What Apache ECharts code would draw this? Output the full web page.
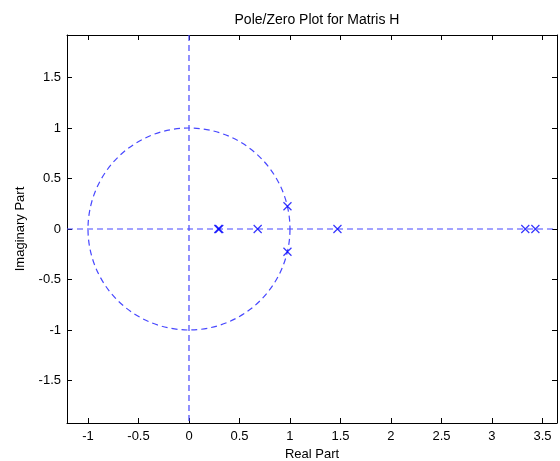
<!DOCTYPE html>
<html>
<head>
<meta charset="utf-8">
<title>Pole/Zero Plot for Matris H</title>
<script src="https://cdn.jsdelivr.net/npm/echarts@6/dist/echarts.min.js"></script>
<style>
  html, body { margin: 0; padding: 0; background: #fff; }
  #pzChart { width: 560px; height: 461px; }
</style>
</head>
<body>
<div id="pzChart"></div>
<script>
// poles (x marks)
const poleRe = [0.29, 0.30, 0.68, 0.975, 0.975, 1.47, 3.33, 3.43]
const poleIm = [0, 0, 0, 0.225, -0.225, 0, 0, 0]
// unit circle: centre re, centre im, radius
const unitCircle = [[0, 0, 1]]
const xTicks = [-1, -0.5, 0, 0.5, 1, 1.5, 2, 2.5, 3, 3.5]
const yTicks = [-1.5, -1, -0.5, 0, 0.5, 1, 1.5]
const xRange = [-1.208, 3.644]
const yRange = [-1.921, 1.921]

const font = 'Arial, "Liberation Sans", Helvetica, sans-serif'
const lineBlue = '#4848ff'

let chart = echarts.init(document.getElementById('pzChart'))

function frameAxis(pos, range, ticks, showLabel) {
  return {
    type: 'value',
    position: pos,
    min: range[0],
    max: range[1],
    axisLine: { show: true, onZero: false, lineStyle: { color: '#000', width: 1 } },
    axisTick: { show: true, inside: true, length: 5, customValues: ticks, lineStyle: { color: '#000' } },
    axisLabel: {
      show: showLabel,
      customValues: ticks,
      color: '#000',
      fontSize: 13,
      fontFamily: font,
      margin: 7
    },
    splitLine: { show: false }
  }
}

let xBottom = frameAxis('bottom', xRange, xTicks, true)
xBottom.name = 'Real Part'
xBottom.nameLocation = 'middle'
xBottom.nameGap = 25
xBottom.nameTextStyle = { color: '#000', fontSize: 13, fontFamily: font }

let yLeft = frameAxis('left', yRange, yTicks, true)
yLeft.name = 'Imaginary Part'
yLeft.nameLocation = 'middle'
yLeft.nameGap = 40
yLeft.nameTextStyle = { color: '#000', fontSize: 13, fontFamily: font }
yLeft.axisLabel.margin = 6

let dash = { fill: 'none', stroke: lineBlue, lineWidth: 1.2, lineDash: [6, 4] }

let option = {
  animation: false,
  title: {
    text: 'Pole/Zero Plot for Matris H',
    left: 312,
    textAlign: 'center',
    top: 8,
    textStyle: { color: '#000', fontSize: 14, fontWeight: 'normal', fontFamily: font }
  },
  grid: { left: 67, right: 3, top: 35, bottom: 38, outerBoundsMode: 'none', containLabel: false },
  xAxis: [xBottom, frameAxis('top', xRange, xTicks, false)],
  yAxis: [yLeft, frameAxis('right', yRange, yTicks, false)],
  series: [
    {
      // unit circle plus the real and imaginary axes through its centre
      type: 'custom',
      silent: true,
      data: unitCircle,
      renderItem: function (params, api) {
        let c = api.coord([api.value(0), api.value(1)])
        let e = api.coord([api.value(0) + api.value(2), api.value(1)])
        let box = params.coordSys
        return {
          type: 'group',
          children: [
            {
              type: 'line',
              shape: { x1: box.x, y1: c[1], x2: box.x + box.width, y2: c[1] },
              style: dash
            },
            {
              type: 'line',
              shape: { x1: c[0], y1: box.y, x2: c[0], y2: box.y + box.height },
              style: dash
            },
            {
              type: 'circle',
              shape: { cx: c[0], cy: c[1], r: e[0] - c[0] },
              style: dash
            }
          ]
        }
      }
    },
    {
      type: 'scatter',
      symbol: 'path://M0,0L10,10M10,0L0,10',
      symbolSize: 8,
      itemStyle: { color: 'none', borderColor: '#0000ff', borderWidth: 1.2 },
      data: poleRe.map(function (re, i) { return [re, poleIm[i]] }),
      z: 3
    }
  ]
}
chart.setOption(option)
</script>
</body>
</html>
